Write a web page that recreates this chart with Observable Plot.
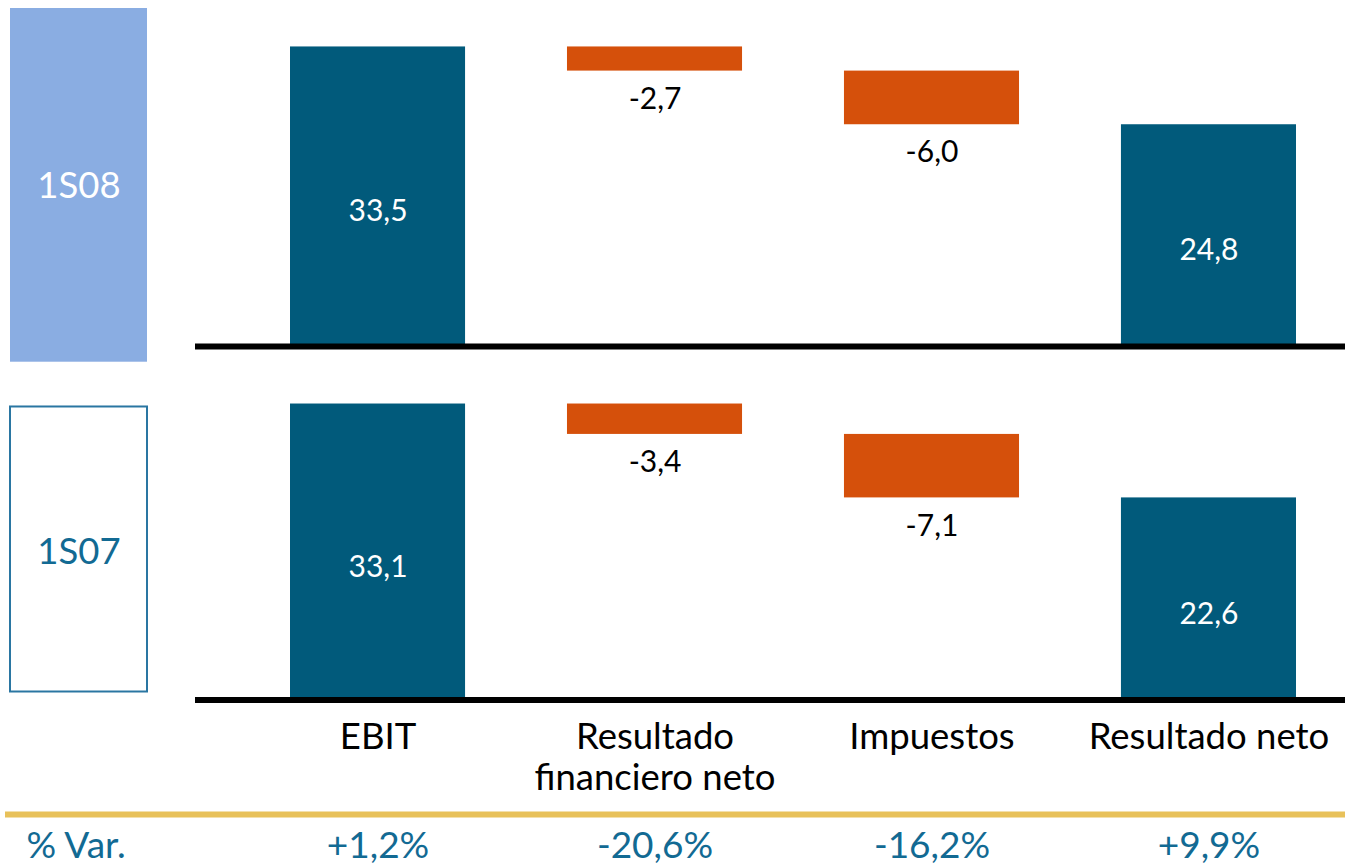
<!DOCTYPE html>
<html>
<head>
<meta charset="utf-8">
<script src="https://cdn.jsdelivr.net/npm/d3@7"></script>
<script src="https://cdn.jsdelivr.net/npm/@observablehq/plot@0.6"></script>
<style>
  html, body { margin: 0; padding: 0; background: #ffffff; }
  #chart { width: 1345px; height: 866px; }
</style>
</head>
<body>
<div id="chart"></div>
<script>
// ---- data ----
const categories = ["EBIT", "Resultado financiero neto", "Impuestos", "Resultado neto"];
const categoryLabels = ["EBIT", "Resultado\nfinanciero neto", "Impuestos", "Resultado neto"];
const kinds = ["total", "delta", "delta", "total"];
const periods = ["1S08", "1S07"];
const values1S08 = [33.5, -2.7, -6.0, 24.8];
const values1S07 = [33.1, -3.4, -7.1, 22.6];
const varLabels = ["+1,2%", "-20,6%", "-16,2%", "+9,9%"];
const varTitle = "% Var.";

// ---- build waterfall rows ----
const fmt = v => v.toFixed(1).replace(".", ",");
function waterfall(period, values) {
  let running = 0;
  return values.map((v, i) => {
    let y1, y2;
    if (kinds[i] === "total") { y1 = 0; y2 = v; running = v; }
    else { y1 = running; y2 = running + v; running = running + v; }
    return {period, cat: categories[i], kind: kinds[i], value: v, y1, y2, label: fmt(v)};
  });
}
const rows = [...waterfall("1S08", values1S08), ...waterfall("1S07", values1S07)];
const totals = rows.filter(d => d.kind === "total");
const deltas = rows.filter(d => d.kind === "delta");
const bottomRow = categories.map((c, i) => ({period: "1S07", cat: c, label: categoryLabels[i], varLabel: varLabels[i]}));

const TEAL = "#015a7b";
const ORANGE = "#d5500b";
const BLUE_TEXT = "#126a93";

const chart = Plot.plot({
  width: 1345,
  height: 866,
  marginTop: 8,
  marginBottom: 166.5,
  marginLeft: 290,
  marginRight: 49,
  style: {fontFamily: "Lato, 'Open Sans', sans-serif", background: "#ffffff", color: "#000"},
  x: {domain: categories, axis: null, paddingInner: 0.368, paddingOuter: 0, round: false},
  y: {domain: [0, 37.8], axis: null},
  fy: {domain: periods, axis: null, paddingInner: 0.0438, paddingOuter: 0, round: false},
  marks: [
    // period boxes
    Plot.rect([{period: "1S08"}], {fy: "period", fill: "#8aade2", insetLeft: -280, insetRight: 1149, insetTop: 0, insetBottom: -15.7}),
    Plot.rect([{period: "1S07"}], {fy: "period", fill: "#ffffff", stroke: "#2a76a2", strokeWidth: 2, insetLeft: -280, insetRight: 1149, insetTop: 45, insetBottom: 8}),
    Plot.text([{period: "1S08"}], {fy: "period", text: "period", frameAnchor: "left", textAnchor: "middle", lineAnchor: "middle", dx: -211.5, dy: 9, fill: "#ffffff", fontSize: 36.5}),
    Plot.text([{period: "1S07"}], {fy: "period", text: "period", frameAnchor: "left", textAnchor: "middle", lineAnchor: "middle", dx: -211.5, dy: 21.5, fill: BLUE_TEXT, fontSize: 36.5}),
    // bars
    Plot.barY(totals, {x: "cat", y1: "y1", y2: "y2", fy: "period", fill: TEAL}),
    Plot.barY(deltas, {x: "cat", y1: "y1", y2: "y2", fy: "period", fill: ORANGE}),
    // baselines
    Plot.ruleY([0], {stroke: "#000", strokeWidth: 6, insetLeft: -95, insetRight: -49}),
    // value labels
    Plot.text(totals, {x: "cat", y: d => (d.y1 + d.y2) / 2, fy: "period", text: "label", fill: "#ffffff", fontSize: 30, dy: 15}),
    Plot.text(deltas, {x: "cat", y: "y2", fy: "period", text: "label", fill: "#000", fontSize: 30, dy: 28}),
    // category labels
    Plot.text(bottomRow, {x: "cat", fy: "period", text: "label", frameAnchor: "bottom", lineAnchor: "top", dy: 20, lineHeight: 1.12, fontSize: 36.5, fill: "#000"}),
    // gold separator
    Plot.ruleY([{period: "1S07", v: 0}], {y: "v", fy: "period", dy: 114.5, stroke: "#e8c15a", strokeWidth: 6, insetLeft: -285, insetRight: -49}),
    // % var row
    Plot.text([{period: "1S07", t: varTitle}], {fy: "period", text: "t", frameAnchor: "bottom-left", textAnchor: "start", lineAnchor: "middle", dx: -264, dy: 146, fill: BLUE_TEXT, fontSize: 37}),
    Plot.text(bottomRow, {x: "cat", fy: "period", text: "varLabel", frameAnchor: "bottom", lineAnchor: "middle", dy: 146, fill: BLUE_TEXT, fontSize: 37})
  ]
});
document.getElementById("chart").appendChild(chart);
</script>
</body>
</html>
